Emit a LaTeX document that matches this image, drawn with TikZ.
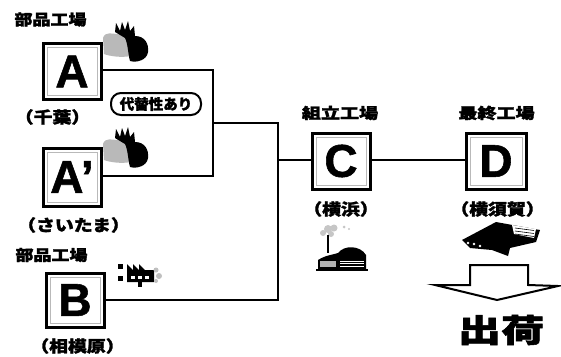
\documentclass[tikz,border=0pt]{standalone}
\usepackage{fontspec}
\setmainfont{Liberation Sans}[BoldFeatures={FakeBold=1.2}]
\newfontfamily\jp{Noto Sans CJK JP}[BoldFeatures={FakeBold=1.6}]
\usetikzlibrary{positioning}

\tikzset{
  plant/.style={draw=black, line width=3pt, fill=white, minimum width=58pt,
    minimum height=56pt, inner sep=0pt, font=\fontsize{46}{46}\selectfont\bfseries,
    path picture={\draw[gray!55, line width=0.6pt]
      ([shift={(4pt,-4pt)}]path picture bounding box.north west) rectangle
      ([shift={(-4pt,4pt)}]path picture bounding box.south east);}},
  title/.style={font=\jp\bfseries\fontsize{15}{15}\selectfont, inner sep=0pt},
  place/.style={font=\jp\bfseries\fontsize{16}{16}\selectfont, inner sep=0pt,
    xscale=1.18},
  link/.style={line width=2.6pt, line cap=rect},
  note/.style={draw=black, line width=2pt, rounded corners=10pt, fill=white,
    minimum width=90pt, minimum height=22pt, inner sep=1pt,
    font=\jp\bfseries\fontsize{14.5}{14.5}\selectfont},
  % smoking factory with flames
  pics/smokestack/.style={code={
    \fill[gray!55] (0,16) .. controls (2,9) and (10,12) .. (14,12)
      -- (28,14) -- (28,34) .. controls (18,36) and (6,34) .. (1,32) -- cycle;
    \fill[black] (22,16) -- (12,10) -- (13,1) -- (17,9) -- (19,0) -- (22,8)
      -- (25,-1) -- (27,9) -- (31,4) -- (32,14)
      .. controls (42,14) and (46,22) .. (45,30)
      .. controls (44,38) and (34,41) .. (27,39)
      .. controls (25,32) and (25,22) .. (22,16) -- cycle;
  }},
  % small factory with sawtooth roof
  pics/workshop/.style={code={
    \fill[black] (0,2) rectangle (5,7);
    \fill[black] (0,14) rectangle (5,19);
    \fill[black] (9,20) -- (9,2) -- (15,8) -- (15,2) -- (21,8) -- (21,2) -- (27,8)
      -- (36,8) -- (36,20) -- cycle;
    \foreach \wx in {13,20,27} \fill[white] (\wx,14) rectangle +(4,3);
    \fill[black] (20,20) rectangle (24,25);
    \fill[gray!50] (38,8) circle (2.5) (41,14) circle (3) (38,19) circle (2);
  }},
  % assembly plant with chimney
  pics/assembly/.style={code={
    \fill[gray!45] (14,2) circle (4) (20,1) circle (3.5) (9,6) circle (3)
      (17,7) circle (3) (30,0) circle (1.5) (35,2) circle (1.2);
    \fill[black] (13,8) rectangle (15,26);
    \fill[black] (4,42) -- (4,33) .. controls (12,28) and (18,28) .. (24,26)
      .. controls (30,18) and (46,18) .. (52,28) -- (52,42) -- cycle;
    \fill[gray!60] (6,34) rectangle (22,40);
    \foreach \sy in {34,36.5,39} \draw[white, line width=0.5pt] (26,\sy) -- (50,\sy);
    \draw[black, line width=1.5pt] (2,43) -- (54,43);
  }},
  % final plant roof
  pics/finalplant/.style={code={
    \fill[black] (0,18) -- (34,0) -- (78,8) -- (74,20) -- (48,26) -- (46,34)
      -- (30,28) -- (8,26) -- cycle;
    \fill[white] (50,3) -- (74,7) -- (72,16) -- (52,12) -- cycle;
    \foreach \sy in {6,9,12} \draw[black, line width=0.6pt] (53,\sy) -- (72,\sy+2.5);
    \fill[white] (6,21) circle (1.3) (12,22) circle (1.3) (18,24) circle (1.3);
  }},
}

\begin{document}
\begin{tikzpicture}[x=1pt, y=-1pt]
  \useasboundingbox (0,0) rectangle (561,356);

  % plants
  \node[plant] (A)  at (72,71.5) {A};
  \node[plant, minimum height=58pt] (A2) at (72,177) {A'};
  \node[plant, minimum height=54pt] (B)  at (75,300) {B};
  \node[plant] (C)  at (341,161) {C};
  \node[plant, minimum width=60pt] (D)  at (496,161) {D};

  % titles and locations
  \node[title, xscale=1.2] (tA) at (50.5,19.5) {部品工場};
  \node[place] (pA) at (52.5,117) {（千葉）};
  \node[place] (pA2) at (73.5,225) {（さいたま）};
  \node[title, xscale=1.2] (tB) at (51.5,255) {部品工場};
  \node[place] (pB) at (77.5,346) {（相模原）};
  \node[title, xscale=1.27] (tC) at (340,113) {組立工場};
  \node[title, xscale=1.27] (tD) at (496.5,113) {最終工場};
  \node[place] (pC) at (341,209) {（横浜）};
  \node[place] (pD) at (497.5,209) {（横須賀）};

  % supply network
  \coordinate (jA)  at (213,70);
  \coordinate (jA2) at (213,176);
  \coordinate (jAm) at (213,123);
  \coordinate (jM)  at (278,123);
  \coordinate (jB)  at (278,300);
  \coordinate (jC)  at (278,160);
  \draw[link] (A.east |- jA) -- (jA) -- (jA2) -- (A2.east |- jA2);
  \draw[link] (jAm) -- (jM) -- (jB) -- (B.east |- jB);
  \draw[link] (jC) -- (C.west |- jC);
  \draw[link] (C.east |- jC) -- (D.west |- jC);

  \node[note] (alt) at (156,104) {代替性あり};

  % icons
  \pic at (103,22) {smokestack};
  \pic at (103,128) {smokestack};
  \pic at (118,262) {workshop};
  \pic at (314,227) {assembly};
  \pic at (462,222) {finalplant};

  % shipping arrow
  \coordinate (s1) at (470,265);
  \coordinate (s2) at (528,265);
  \coordinate (s3) at (528,285);
  \coordinate (s4) at (558,286);
  \coordinate (tip) at (497,300);
  \coordinate (s6) at (435,285);
  \coordinate (s7) at (470,285);
  \draw[line width=2pt, line join=miter, fill=white] (s1) -- (s2) -- (s3) -- (s4)
    -- (tip) -- (s6) -- (s7) -- cycle;
  \node[font=\jp\bfseries\fontsize{32}{32}\selectfont, xscale=1.35, inner sep=0pt]
    (ship) at (501,330) {出荷};
\end{tikzpicture}
\end{document}
